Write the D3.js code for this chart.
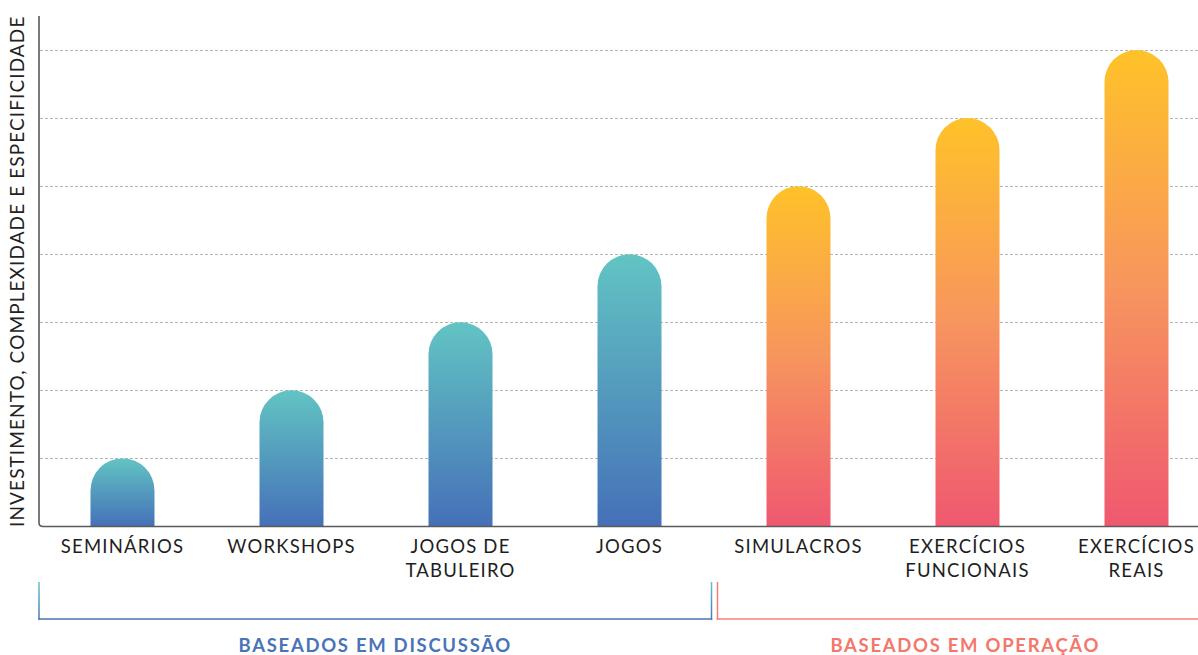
<!DOCTYPE html>
<html><head><meta charset="utf-8">
<script src="https://cdn.jsdelivr.net/npm/d3@7"></script>
<style>
html,body{margin:0;padding:0;background:#fff;}
svg{display:block;font-family:"Lato","Noto Sans",sans-serif;}
</style></head>
<body>
<svg id="chart" width="1198" height="655"></svg>
<script>
const categories = ["SEMINÁRIOS","WORKSHOPS","JOGOS DE TABULEIRO","JOGOS","SIMULACROS","EXERCÍCIOS FUNCIONAIS","EXERCÍCIOS REAIS"];
const labelLines = [["SEMINÁRIOS"],["WORKSHOPS"],["JOGOS DE","TABULEIRO"],["JOGOS"],["SIMULACROS"],["EXERCÍCIOS","FUNCIONAIS"],["EXERCÍCIOS","REAIS"]];
const values = [1,2,3,4,5,6,7];
const groupOf = ["disc","disc","disc","disc","op","op","op"];
const groupNames = ["BASEADOS EM DISCUSSÃO","BASEADOS EM OPERAÇÃO"];
const yTicks = [1,2,3,4,5,6,7];
const yTitle = "INVESTIMENTO, COMPLEXIDADE E ESPECIFICIDADE";

const svg = d3.select("#chart");
const W = 1198;
const x0 = 39, baseY = 526.5;
const x = d3.scalePoint().domain(categories).range([122.5, 1136.5]);
const y = d3.scaleLinear().domain([0, 7]).range([baseY, 50]);
const bw = 64, r = bw/2;

const defs = svg.append("defs");
function grad(id, stops){
  const g = defs.append("linearGradient").attr("id", id).attr("x1",0).attr("y1",0).attr("x2",0).attr("y2",1);
  stops.forEach(s=>g.append("stop").attr("offset",s[0]).attr("stop-color",s[1]));
}
grad("gDisc",[["0%","#62c4c3"],["100%","#4570b8"]]);
grad("gOp",[["0%","#ffc229"],["50%","#f7955e"],["100%","#ef5870"]]);
grad("gBr",[["0%","#62c4c3"],["100%","#4a74b8"]]);

// gridlines
svg.append("g").selectAll("line").data(yTicks).join("line")
  .attr("x1", x0+1).attr("x2", W)
  .attr("y1", d=>Math.round(y(d))+0.5).attr("y2", d=>Math.round(y(d))+0.5)
  .attr("stroke","#b5b5b5").attr("stroke-width",1).attr("stroke-dasharray","3,2");

// bars
svg.append("g").selectAll("path").data(values).join("path")
  .attr("d",(v,i)=>{
    const cx = x(categories[i]), l = cx-bw/2, rr = cx+bw/2, t = y(v);
    return `M${l},${baseY} L${l},${t+r} A${r},${r} 0 0 1 ${rr},${t+r} L${rr},${baseY} Z`;
  })
  .attr("fill",(v,i)=> groupOf[i]==="disc" ? "url(#gDisc)" : "url(#gOp)");

// axes with rounded corner
const yTop = y(7.5);
svg.append("path")
  .attr("d",`M${x0},${yTop} L${x0},${baseY-4} Q${x0},${baseY} ${x0+4},${baseY} L${W},${baseY}`)
  .attr("fill","none").attr("stroke","#5a5a5a").attr("stroke-width",1.6);

// y title
svg.append("text")
  .attr("transform",`translate(24,${(yTop+baseY)/2}) rotate(-90)`)
  .attr("text-anchor","middle")
  .attr("font-size",19).attr("letter-spacing",1.1).attr("fill","#222")
  .text(yTitle);

// x labels
const lg = svg.append("g");
labelLines.forEach((lines,i)=>{
  const t = lg.append("text").attr("text-anchor","middle").attr("font-size",18.5)
    .attr("fill","#1e1e1e").attr("letter-spacing",1.2);
  lines.forEach((ln,j)=>{
    t.append("tspan").attr("x", x(categories[i])).attr("y", 553 + j*23.5).text(ln);
  });
});

// brackets
const mid = (x(categories[3]) + x(categories[4]))/2;
const brTop = 582, brBot = 619;
const brackets = [
  {name: groupNames[0], x1: x0, x2: mid-2.5, stroke: "url(#gBr)", hstroke:"#4a74b8", color:"#4a74b8", cx: null},
  {name: groupNames[1], x1: mid+3.5, x2: 1213, stroke: "#f4806f", hstroke:"#f4806f", color:"#f4776b"}
];
brackets.forEach(b=>{
  [b.x1, b.x2].forEach(xx=>{
    svg.append("rect").attr("x", xx-0.75).attr("y", brTop).attr("width",1.5).attr("height", brBot-brTop+0.75)
      .attr("fill", b.stroke);
  });
  svg.append("line").attr("x1", b.x1-0.75).attr("x2", b.x2+0.75).attr("y1", brBot).attr("y2", brBot)
    .attr("stroke", b.hstroke).attr("stroke-width",1.5);
  svg.append("text").attr("x",(b.x1+b.x2)/2).attr("y",652).attr("text-anchor","middle")
    .attr("font-size",18.5).attr("font-weight",700).attr("letter-spacing",1.7)
    .attr("fill", b.color).text(b.name);
});
</script>
</body></html>
